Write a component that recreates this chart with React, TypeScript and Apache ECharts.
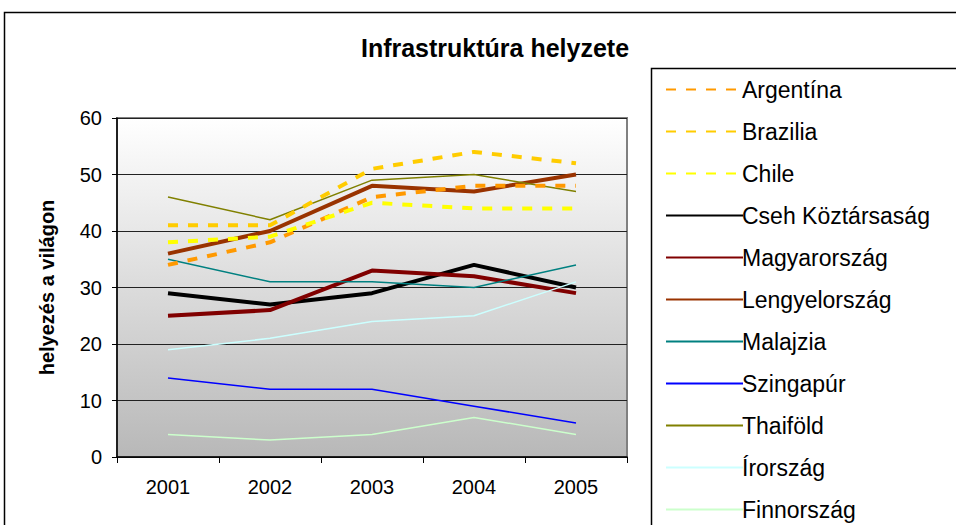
import React, { useEffect, useRef } from "react";
import * as echarts from "echarts";

const years = ["2001", "2002", "2003", "2004", "2005"];
const argentina = [34, 38, 46, 48, 48];
const brazilia = [41, 41, 51, 54, 52];
const chile = [38, 39, 45, 44, 44];
const cseh = [29, 27, 29, 34, 30];
const magyar = [25, 26, 33, 32, 29];
const lengyel = [36, 40, 48, 47, 50];
const malajzia = [35, 31, 31, 30, 34];
const szingapur = [14, 12, 12, 9, 6];
const thaifold = [46, 42, 49, 50, 47];
const irorszag = [19, 21, 24, 25, 31];
const finnorszag = [4, 3, 4, 7, 4];

const FONT = "Liberation Sans, Arial, sans-serif";

export default function App() {
  const ref = useRef<HTMLDivElement>(null);
  useEffect(() => {
    const chart = echarts.init(ref.current!, null, { renderer: "svg" });
    const mk = (name: string, data: number[], color: string, width: number, type: any = "solid", z = 2) => ({
      name,
      type: "line",
      data,
      symbol: "none",
      z,
      lineStyle: { color, width, type },
      itemStyle: { color },
    });
    chart.setOption({
      animation: false,
      backgroundColor: "#ffffff",
      title: {
        text: "Infrastruktúra helyzete",
        left: 490,
        top: 30,
        textAlign: "center",
        textStyle: { fontFamily: FONT, fontWeight: "bold", fontSize: 25, color: "#000" },
      },
      grid: {
        left: 117,
        top: 118,
        width: 510,
        height: 339,
        show: true,
        borderColor: "#808080",
        borderWidth: 2,
        backgroundColor: {
          type: "linear",
          x: 0,
          y: 0,
          x2: 0,
          y2: 1,
          colorStops: [
            { offset: 0, color: "#ffffff" },
            { offset: 1, color: "#b8b8b8" },
          ],
        },
      },
      legend: {
        orient: "vertical",
        left: 660,
        top: 72,
        height: 460,
        itemWidth: 77,
        itemHeight: 14,
        itemGap: 17,
        itemStyle: { opacity: 0 },
        textStyle: { fontFamily: FONT, fontSize: 23, color: "#000", lineHeight: 25, padding: [0, 0, 0, -6] },
        data: [
          "Argentína",
          "Brazilia",
          "Chile",
          "Cseh Köztársaság",
          "Magyarország",
          "Lengyelország",
          "Malajzia",
          "Szingapúr",
          "Thaiföld",
          "Írország",
          "Finnország",
        ],
      },
      xAxis: {
        type: "category",
        data: years,
        boundaryGap: true,
        axisLine: { lineStyle: { color: "#000", width: 1.5 } },
        axisTick: { show: true, length: 6, lineStyle: { color: "#000" } },
        axisLabel: { fontFamily: FONT, fontSize: 20, color: "#000", margin: 20 },
      },
      yAxis: {
        type: "value",
        min: 0,
        max: 60,
        interval: 10,
        name: "helyezés a világon",
        nameLocation: "middle",
        nameGap: 60,
        nameTextStyle: { fontFamily: FONT, fontSize: 20, fontWeight: "bold", color: "#000" },
        axisLine: { show: true, lineStyle: { color: "#000", width: 1.5 } },
        axisTick: { show: true, length: 5, lineStyle: { color: "#000" } },
        axisLabel: { fontFamily: FONT, fontSize: 20, color: "#000", margin: 15 },
        splitLine: { show: true, lineStyle: { color: "#222", width: 1 } },
      },
      graphic: [
        {
          type: "rect",
          shape: { x: 4.5, y: 12.5, width: 1000, height: 600 },
          style: { fill: "none", stroke: "#000", lineWidth: 1.5 },
          silent: true,
          z: -10,
        },
        {
          type: "rect",
          shape: { x: 651.5, y: 68.5, width: 400, height: 500 },
          style: { fill: "#fff", stroke: "#000", lineWidth: 1.5 },
          silent: true,
          z: -5,
        },
      ],
      series: [
        mk("Argentína", argentina, "#FF9900", 4, [10, 10], 3),
        mk("Brazilia", brazilia, "#FFCC00", 4, [10, 10], 3),
        mk("Chile", chile, "#FFFF00", 4, [10, 10], 3),
        mk("Cseh Köztársaság", cseh, "#000000", 4),
        mk("Magyarország", magyar, "#800000", 4),
        mk("Lengyelország", lengyel, "#993300", 4),
        mk("Malajzia", malajzia, "#008080", 1.5),
        mk("Szingapúr", szingapur, "#0000FF", 1.5),
        mk("Thaiföld", thaifold, "#808000", 1.5),
        mk("Írország", irorszag, "#CCFFFF", 1.5),
        mk("Finnország", finnorszag, "#CCFFCC", 1.5),
      ],
    });
    return () => chart.dispose();
  }, []);
  return <div ref={ref} style={{ position: "fixed", left: 0, top: 0, width: 956, height: 525 }} />;
}
